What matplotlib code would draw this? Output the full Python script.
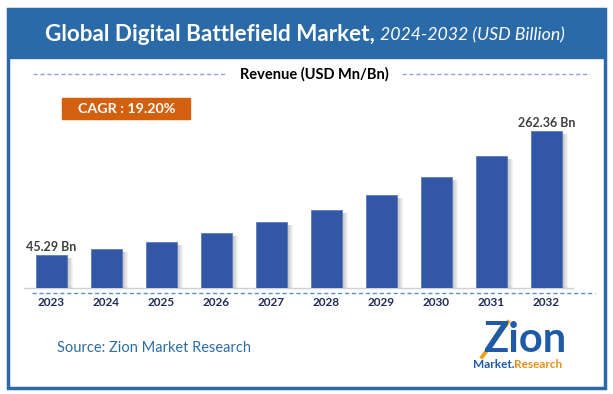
import numpy as np
import matplotlib.pyplot as plt
from matplotlib.patches import Rectangle

plt.rcParams['font.family'] = ['Lato', 'DejaVu Sans']

# data (axis does not start at zero in the original)
years = ['2023', '2024', '2025', '2026', '2027', '2028', '2029', '2030', '2031', '2032']
revenue = [45.29, 55.3, 67.6, 83.3, 102.6, 124.1, 150.4, 181.9, 218.6, 262.36]
labelled = {0: '45.29 Bn', 9: '262.36 Bn'}
cagr_text = 'CAGR : 19.20%'

blue_band = '#2b6aa8'
bar_color = '#3257a5'
orange = '#d2600f'

W, H = 613, 394
fig = plt.figure(figsize=(W / 100, H / 100), dpi=100)

# overlay axes in pixel coords for the decoration
deco = fig.add_axes([0, 0, 1, 1])
deco.set_xlim(0, W)
deco.set_ylim(H, 0)
deco.axis('off')

# frame and header band
deco.add_patch(Rectangle((8, 9), 597, 379, fill=False, edgecolor=blue_band, lw=2.5))
deco.add_patch(Rectangle((8, 9), 597, 49, color=blue_band))
deco.text(375, 34, 'Global Digital Battlefield Market,', color='white', fontsize=16.2,
          fontweight='bold', ha='right', va='center')
deco.text(380, 35, '2024-2032 (USD Billion)', color='white', fontsize=12.8,
          style='italic', ha='left', va='center')

# revenue subtitle with dashed lines
deco.plot([33, 225], [74, 74], ls=(0, (3, 2)), color='#8aa4d6', lw=1)
deco.plot([402, 590], [74, 74], ls=(0, (3, 2)), color='#8aa4d6', lw=1)
deco.text(314, 74, 'Revenue (USD Mn/Bn)', fontsize=10.5, fontweight='bold', ha='center', va='center')

# CAGR box
deco.add_patch(Rectangle((62, 98), 128, 21, color=orange))
deco.text(127, 108.5, cagr_text, color='white', fontsize=10.3, fontweight='bold', ha='center', va='center')

# baseline lines
deco.plot([24, 573], [288, 288], color='#cfcfcf', lw=1)
deco.plot([32, 595], [292.5, 292.5], ls=(0, (3, 2)), color='#5b8bd6', lw=1)

# source + logo
deco.text(57, 348, 'Source: Zion Market Research', color='#2e6da4', fontsize=10.5, va='center')
deco.text(525, 340, 'Zion', color='#1f5aa6', fontsize=30, fontweight='bold', ha='center', va='center')
deco.plot([482, 508], [357, 322], color='#f0a020', lw=2.8)
deco.text(514, 365, 'Market.', color='#1f5aa6', fontsize=8.5, fontweight='bold', ha='right', va='center')
deco.text(514, 365, 'Research', color='#e8901a', fontsize=8.5, fontweight='bold', ha='left', va='center')

# bar chart axes
y0 = -12.4
top_val = 316.6
ax = fig.add_axes([24 / W, (H - 288) / H, 550 / W, 188 / H])
ax.set_xlim(-0.5, 9.5)
ax.set_ylim(y0, top_val)
ax.axis('off')
ax.patch.set_alpha(0)

x = np.arange(len(years))
vals = np.array(revenue)
px = 1 / 55.0
# soft shadow on the right
for d in range(1, 7):
    ax.bar(x + d * px, vals - y0 - 3 * 1.75, bottom=y0, width=0.56, color='#000000',
           alpha=0.045, zorder=1)
ax.bar(x, vals - y0, bottom=y0, width=0.56, color=bar_color, edgecolor='#5b7cc4',
       linewidth=0.6, zorder=2)

for i, txt in labelled.items():
    ax.text(x[i], vals[i] + 14, txt, ha='center', va='center', fontsize=9,
            fontweight='bold', color='#404040')

for i, yr in enumerate(years):
    deco.text(51.5 + 55 * i, 303, yr, ha='center', va='center', fontsize=8.5,
              fontweight='bold', color='#1f2d5a')

fig.savefig('out.png', dpi=100)
